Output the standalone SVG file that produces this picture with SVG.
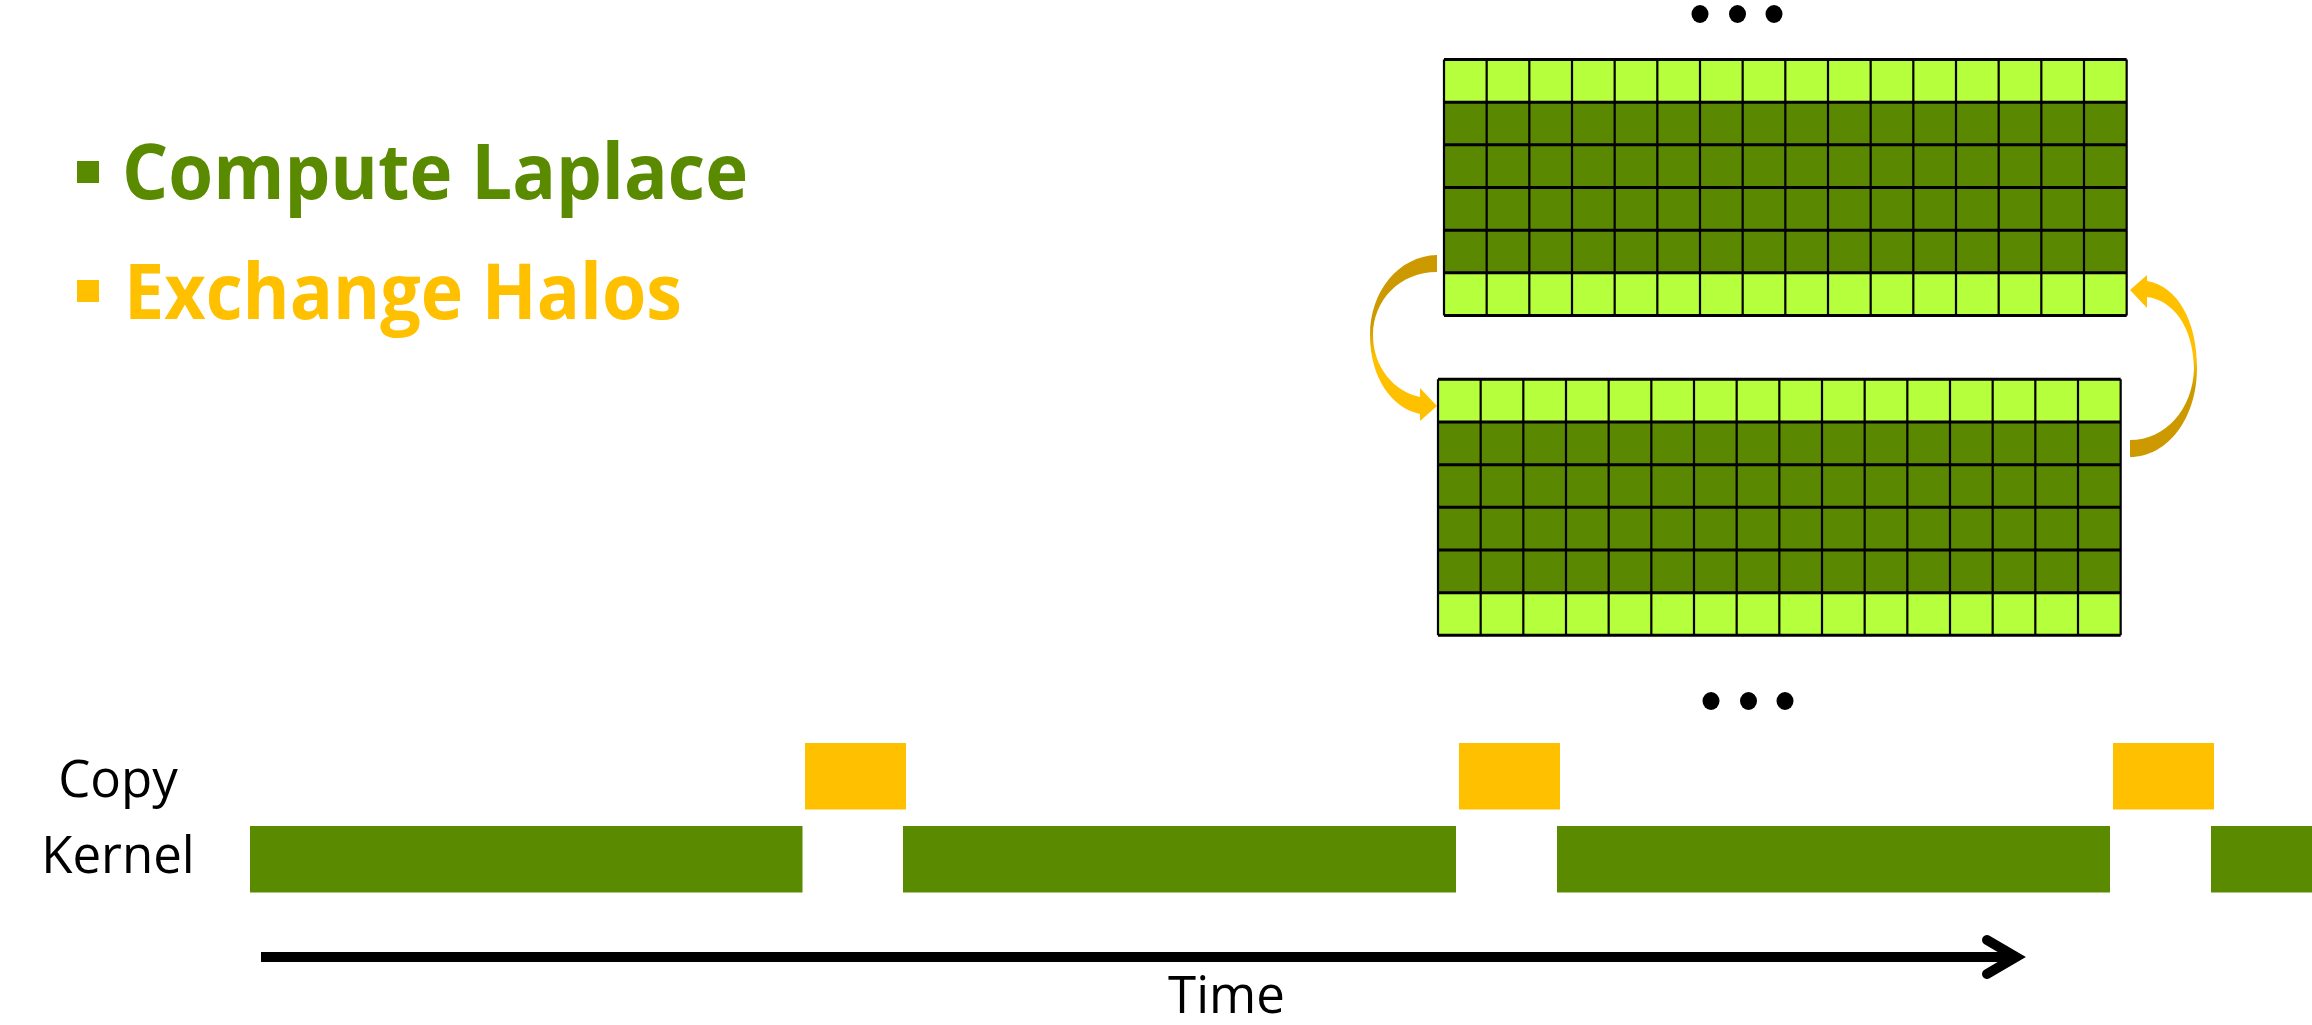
<svg xmlns="http://www.w3.org/2000/svg" width="2312" height="1025" viewBox="0 0 2312 1025">
<style>
  .light{fill:#B6FF3C}
  .dark{fill:#5A8800}
  .gl{fill:none;stroke:#000;stroke-width:2.2}
  .gh{fill:none;stroke:#000;stroke-width:3}
  .kernel{fill:#5A8A00}
  .copy{fill:#FFC000}
  .title{font-family:"Open Sans","Liberation Sans",sans-serif;font-weight:bold;font-size:77px}
  .lbl{font-family:"Open Sans","Liberation Sans",sans-serif;font-size:51px;fill:#000}
  .dot{fill:#000}
</style>
<defs>
  <linearGradient id="gLeft" x1="0" y1="0" x2="0" y2="1">
    <stop offset="0" stop-color="#CC9900"/>
    <stop offset="0.42" stop-color="#CC9900"/>
    <stop offset="0.62" stop-color="#FFC000"/>
    <stop offset="1" stop-color="#FFC000"/>
  </linearGradient>
  <linearGradient id="gRight" x1="0" y1="0" x2="0" y2="1">
    <stop offset="0" stop-color="#FFC000"/>
    <stop offset="0.45" stop-color="#FFC000"/>
    <stop offset="0.62" stop-color="#CC9900"/>
    <stop offset="1" stop-color="#CC9900"/>
  </linearGradient>
  <g id="gridShape">
    <rect class="light" x="0" y="0" width="682.67" height="42.67"/>
    <rect class="dark" x="0" y="42.67" width="682.67" height="170.67"/>
    <rect class="light" x="0" y="213.33" width="682.67" height="42.67"/>
    <path class="gl" d="M0,0V256M42.67,0V256M85.33,0V256M128,0V256M170.67,0V256M213.33,0V256M256,0V256M298.67,0V256M341.33,0V256M384,0V256M426.67,0V256M469.33,0V256M512,0V256M554.67,0V256M597.33,0V256M640,0V256M682.67,0V256"/>
    <path class="gh" d="M0,0H682.67M0,42.67H682.67M0,85.33H682.67M0,128H682.67M0,170.67H682.67M0,213.33H682.67M0,256H682.67"/>
  </g>
</defs>

<g id="legend">
  <g id="legend-compute">
    <rect x="77" y="161" width="22" height="22" fill="#5A8A00"/>
    <text class="title" x="122" y="199" fill="#5A8A00" textLength="626" lengthAdjust="spacingAndGlyphs">Compute Laplace</text>
  </g>
  <g id="legend-exchange">
    <rect x="77" y="280" width="22" height="22" fill="#FFC000"/>
    <text class="title" x="124" y="319" fill="#FFC000" textLength="558" lengthAdjust="spacingAndGlyphs">Exchange Halos</text>
  </g>
</g>

<g id="dots-top">
  <ellipse class="dot" cx="1700" cy="14" rx="8.5" ry="9"/>
  <ellipse class="dot" cx="1737.5" cy="14" rx="8.5" ry="9"/>
  <ellipse class="dot" cx="1774" cy="14" rx="8.5" ry="9"/>
</g>

<g id="grid-upper">
  <use href="#gridShape" transform="translate(1444,59.5)"/>
</g>
<g id="grid-lower">
  <use href="#gridShape" transform="translate(1438,379.3)"/>
</g>

<g id="dots-bottom">
  <ellipse class="dot" cx="1711" cy="701" rx="8.5" ry="9"/>
  <ellipse class="dot" cx="1748.5" cy="701" rx="8.5" ry="9"/>
  <ellipse class="dot" cx="1785" cy="701" rx="8.5" ry="9"/>
</g>

<g id="connectors">
  <path fill="url(#gLeft)" d="M1437,255 C1398,256 1370,292 1370,335 C1370,378 1392,408 1420,414 L1420,421 L1437,406 L1420,388 L1420,397 C1395,392 1373,368 1373,335 C1373,300 1400,272 1437,272 Z"/>
  <path fill="url(#gRight)" d="M2130,440 C2165,440 2193,410 2194,368 C2193,325 2172,300 2147,297 L2147,308 L2130,290 L2147,275 L2147,281 C2177,286 2197,320 2197,368 C2197,418 2168,457 2130,457 Z"/>
</g>

<g id="timeline">
  <g id="label-copy"><text class="lbl" x="118" y="797" text-anchor="middle">Copy</text></g>
  <g id="label-kernel"><text class="lbl" x="118" y="873" text-anchor="middle">Kernel</text></g>
  <g id="kernels">
    <rect class="kernel" x="250" y="826" width="552.5" height="66.5"/>
    <rect class="kernel" x="903" y="826" width="553" height="66.5"/>
    <rect class="kernel" x="1557" y="826" width="553" height="66.5"/>
    <rect class="kernel" x="2211" y="826" width="101" height="66.5"/>
  </g>
  <g id="copies">
    <rect class="copy" x="805" y="743" width="101" height="66.5"/>
    <rect class="copy" x="1459" y="743" width="101" height="66.5"/>
    <rect class="copy" x="2113" y="743" width="101" height="66.5"/>
  </g>
  <g id="time-axis">
    <line x1="261" y1="957" x2="2016" y2="957" stroke="#000" stroke-width="10"/>
    <polyline points="1987,940 2016,957 1987,974" fill="none" stroke="#000" stroke-width="10" stroke-linecap="round" stroke-linejoin="miter"/>
    <text class="lbl" x="1226.5" y="1013" text-anchor="middle">Time</text>
  </g>
</g>
</svg>
